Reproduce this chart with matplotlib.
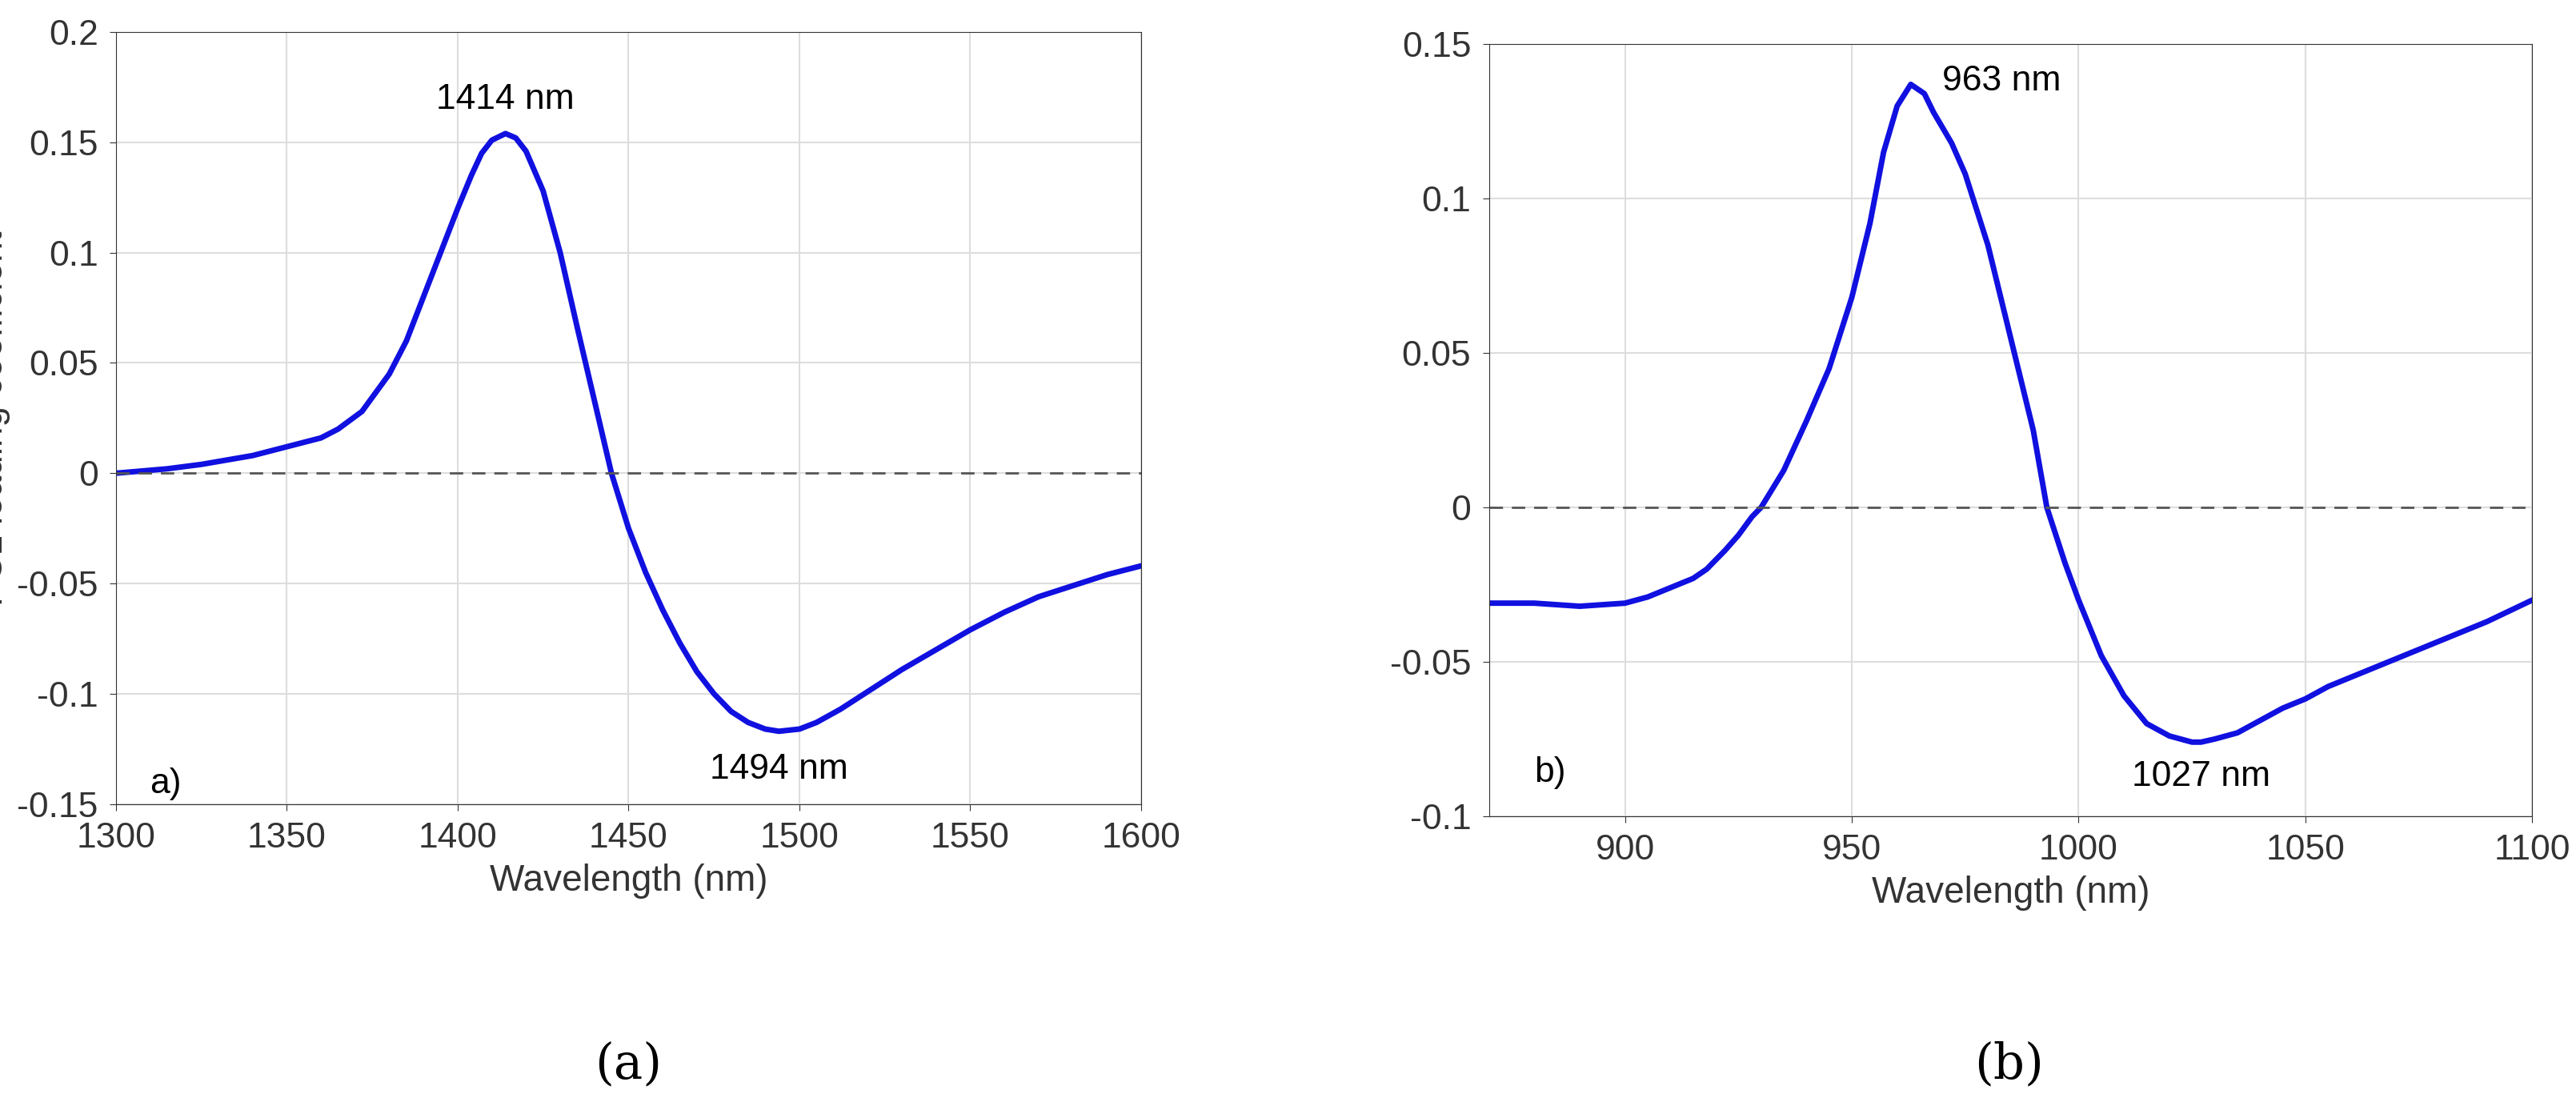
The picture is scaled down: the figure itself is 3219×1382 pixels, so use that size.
import matplotlib
matplotlib.use("Agg")
import matplotlib.pyplot as plt

xa = [1300,1315,1325,1340,1350,1360,1365,1372,1380,1385,1390,1395,1400,1404,1407,1410,1414,1417,1420,1425,1430,1435,1440,1445,1450,1455,1460,1465,1470,1475,1480,1485,1490,1494,1500,1505,1512,1520,1530,1540,1550,1560,1570,1580,1590,1600]
ya = [0,0.002,0.004,0.008,0.012,0.016,0.02,0.028,0.045,0.06,0.08,0.10,0.12,0.135,0.145,0.151,0.154,0.152,0.146,0.128,0.10,0.066,0.033,0.0,-0.025,-0.045,-0.062,-0.077,-0.09,-0.1,-0.108,-0.113,-0.116,-0.117,-0.116,-0.113,-0.107,-0.099,-0.089,-0.08,-0.071,-0.063,-0.056,-0.051,-0.046,-0.042]
xb = [870,880,890,900,905,910,915,918,922,925,928,930,935,940,945,950,954,957,960,963,966,968,972,975,980,985,990,993,997,1000,1005,1010,1015,1020,1025,1027,1030,1035,1040,1045,1050,1055,1060,1065,1070,1080,1090,1100]
yb = [-0.031,-0.031,-0.032,-0.031,-0.029,-0.026,-0.023,-0.02,-0.014,-0.009,-0.003,0.0,0.012,0.028,0.045,0.068,0.092,0.115,0.13,0.137,0.134,0.128,0.118,0.108,0.085,0.055,0.025,0.0,-0.018,-0.03,-0.048,-0.061,-0.07,-0.074,-0.076,-0.076,-0.075,-0.073,-0.069,-0.065,-0.062,-0.058,-0.055,-0.052,-0.049,-0.043,-0.037,-0.03]

plt.rcParams['font.family'] = ['Liberation Sans', 'DejaVu Sans']
fig = plt.figure(figsize=(32.19, 13.82), dpi=100)
blue = '#1010e0'
axA = fig.add_axes([0.045, 0.273, 0.398, 0.698])
axB = fig.add_axes([0.578, 0.262, 0.405, 0.698])

for ax, x, y in [(axA, xa, ya), (axB, xb, yb)]:
    ax.plot(x, y, color=blue, lw=5)
    ax.axhline(0, color='#555555', ls=(0, (6, 4)), lw=2)
    ax.grid(True, color='#dddddd', lw=1.5)
    ax.tick_params(labelsize=32, length=6, colors='#333333', pad=10)
    for s in ax.spines.values():
        s.set_color('#333333')
    ax.set_xlabel('Wavelength (nm)', fontsize=33, color='#333333', labelpad=8)

axA.set_xlim(1300, 1600); axA.set_ylim(-0.15, 0.2)
axA.set_xticks(range(1300, 1601, 50))
axA.set_yticks([-0.15,-0.1,-0.05,0,0.05,0.1,0.15,0.2])
axA.set_yticklabels(['-0.15','-0.1','-0.05','0','0.05','0.1','0.15','0.2'])
axA.set_ylabel('PC1 loading coefficient', fontsize=33, color='#333333', labelpad=6)
axA.text(1414, 0.162, '1414 nm', fontsize=32, ha='center', va='bottom')
axA.text(1494, -0.127, '1494 nm', fontsize=32, ha='center', va='top')
axA.text(1310, -0.145, 'a)', fontsize=32)

axB.set_xlim(870, 1100); axB.set_ylim(-0.1, 0.15)
axB.set_xticks(range(900, 1101, 50))
axB.set_yticks([-0.1,-0.05,0,0.05,0.1,0.15])
axB.set_yticklabels(['-0.1','-0.05','0','0.05','0.1','0.15'])
axB.text(970, 0.138, '963 nm', fontsize=32, ha='left', va='center')
axB.text(1027, -0.082, '1027 nm', fontsize=32, ha='center', va='top')
axB.text(880, -0.089, 'b)', fontsize=32)

fig.text(0.244, 0.025, '(a)', fontsize=44, family='DejaVu Serif', ha='center')
fig.text(0.78, 0.025, '(b)', fontsize=44, family='DejaVu Serif', ha='center')
fig.savefig('out.png', dpi=100, facecolor='white')
